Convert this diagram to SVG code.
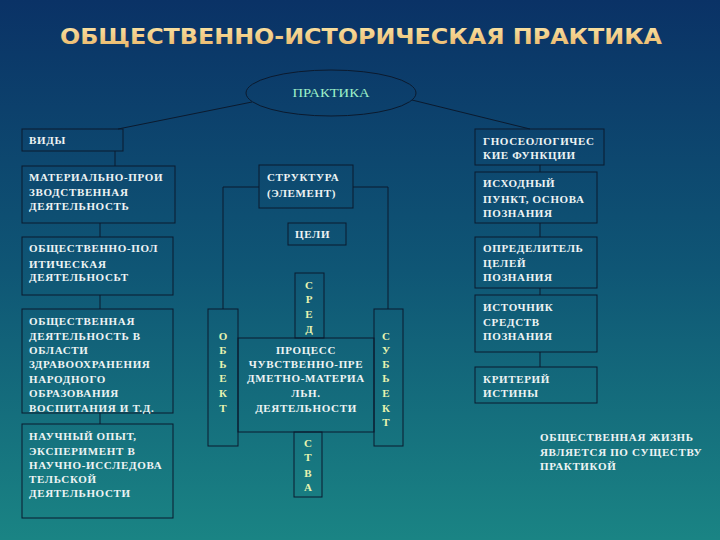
<svg xmlns="http://www.w3.org/2000/svg" width="720" height="540" viewBox="0 0 720 540">
<defs>
<linearGradient id="bg" x1="0" y1="0" x2="0" y2="1">
<stop offset="0" stop-color="#0a3266"/>
<stop offset="0.5" stop-color="#0f5675"/>
<stop offset="1" stop-color="#1a8484"/>
</linearGradient>
<linearGradient id="gold" x1="0" y1="0" x2="0" y2="1">
<stop offset="0" stop-color="#fbe6a8"/>
<stop offset="1" stop-color="#e9b466"/>
</linearGradient>
<style>
.box{fill:none;stroke:#0b1a2e;stroke-width:1}
.ln{fill:none;stroke:#0b1a2e;stroke-width:1}
.t{font-family:"Liberation Serif","Times New Roman",serif;font-weight:bold;font-size:11px;letter-spacing:0.65px;fill:#eef4f4}
.v{font-family:"Liberation Serif","Times New Roman",serif;font-weight:bold;font-size:11px;fill:#e8f4b0;text-anchor:middle}
.c{text-anchor:middle}
</style>
</defs>
<rect width="720" height="540" fill="url(#bg)"/>
<text x="361" y="44" font-family="DejaVu Sans,Verdana,sans-serif" font-weight="bold" font-size="22" fill="url(#gold)" text-anchor="middle" textLength="602" lengthAdjust="spacingAndGlyphs">ОБЩЕСТВЕННО-ИСТОРИЧЕСКАЯ ПРАКТИКА</text>

<g id="connectors">
<line class="ln" x1="252" y1="102" x2="118" y2="129"/>
<line class="ln" x1="412" y1="100" x2="530" y2="129"/>
<line class="ln" x1="115" y1="151" x2="115" y2="166"/>
<line class="ln" x1="100" y1="223" x2="100" y2="237"/>
<line class="ln" x1="100" y1="295" x2="100" y2="309"/>
<line class="ln" x1="100" y1="413" x2="100" y2="424"/>
<polyline class="ln" points="259,187 223,187 223,309"/>
<polyline class="ln" points="353,187 388,187 388,309"/>
<line class="ln" x1="540" y1="165" x2="540" y2="172"/>
<line class="ln" x1="540" y1="223" x2="540" y2="237"/>
<line class="ln" x1="540" y1="288" x2="540" y2="295"/>
<line class="ln" x1="540" y1="352" x2="540" y2="367"/>
</g>

<g id="praktika">
<ellipse class="box" cx="331" cy="93" rx="85" ry="23"/>
<text x="331" y="97" font-family="Liberation Serif,serif" font-size="11.5" fill="#9ef0c8" text-anchor="middle" textLength="77" lengthAdjust="spacingAndGlyphs">ПРАКТИКА</text>
</g>

<g id="vidy">
<rect class="box" x="22" y="129" width="101" height="22"/>
<text class="t" x="29" y="144">ВИДЫ</text>
</g>
<g id="material">
<rect class="box" x="22" y="166" width="153" height="57"/>
<text class="t" x="29" y="181">МАТЕРИАЛЬНО-ПРОИ</text>
<text class="t" x="29" y="196">ЗВОДСТВЕННАЯ</text>
<text class="t" x="29" y="210">ДЕЯТЕЛЬНОСТЬ</text>
</g>
<g id="politic">
<rect class="box" x="22" y="237" width="151" height="58"/>
<text class="t" x="29" y="252">ОБЩЕСТВЕННО-ПОЛ</text>
<text class="t" x="29" y="268">ИТИЧЕСКАЯ</text>
<text class="t" x="29" y="281">ДЕЯТЕЛЬНОСЬТ</text>
</g>
<g id="social">
<rect class="box" x="22" y="309" width="151" height="104"/>
<text class="t" x="29" y="325">ОБЩЕСТВЕННАЯ</text>
<text class="t" x="29" y="340">ДЕЯТЕЛЬНОСТЬ В</text>
<text class="t" x="29" y="354">ОБЛАСТИ</text>
<text class="t" x="29" y="368">ЗДРАВООХРАНЕНИЯ</text>
<text class="t" x="29" y="383">НАРОДНОГО</text>
<text class="t" x="29" y="397">ОБРАЗОВАНИЯ</text>
<text class="t" x="29" y="412">ВОСПИТАНИЯ И Т.Д.</text>
</g>
<g id="science">
<rect class="box" x="22" y="424" width="151" height="94"/>
<text class="t" x="29" y="440">НАУЧНЫЙ ОПЫТ,</text>
<text class="t" x="29" y="455">ЭКСПЕРИМЕНТ В</text>
<text class="t" x="29" y="469">НАУЧНО-ИССЛЕДОВА</text>
<text class="t" x="29" y="483">ТЕЛЬСКОЙ</text>
<text class="t" x="29" y="497">ДЕЯТЕЛЬНОСТИ</text>
</g>

<g id="struktura">
<rect class="box" x="259" y="165" width="94" height="43"/>
<text class="t" x="267" y="181">СТРУКТУРА</text>
<text class="t" x="267" y="197">(ЭЛЕМЕНТ)</text>
</g>
<g id="celi">
<rect class="box" x="288" y="223" width="58" height="22"/>
<text class="t" x="295" y="238">ЦЕЛИ</text>
</g>
<g id="sred">
<rect class="box" x="295" y="273" width="29" height="65"/>
<text class="v" x="309" y="289">С</text>
<text class="v" x="309" y="303">Р</text>
<text class="v" x="309" y="318">Е</text>
<text class="v" x="309" y="333">Д</text>
</g>
<g id="obekt">
<rect class="box" x="208" y="309" width="30" height="137"/>
<text class="v" x="223" y="340">О</text>
<text class="v" x="223" y="354">Б</text>
<text class="v" x="223" y="368">Ь</text>
<text class="v" x="223" y="382">Е</text>
<text class="v" x="223" y="397">К</text>
<text class="v" x="223" y="412">Т</text>
</g>
<g id="process">
<rect class="box" x="238" y="338" width="136" height="94"/>
<text class="t c" x="306" y="354">ПРОЦЕСС</text>
<text class="t c" x="306" y="368">ЧУВСТВЕННО-ПРЕ</text>
<text class="t c" x="306" y="382">ДМЕТНО-МАТЕРИА</text>
<text class="t c" x="306" y="397">ЛЬН.</text>
<text class="t c" x="306" y="412">ДЕЯТЕЛЬНОСТИ</text>
</g>
<g id="subekt">
<rect class="box" x="374" y="309" width="29" height="137"/>
<text class="v" x="386" y="340">С</text>
<text class="v" x="386" y="354">У</text>
<text class="v" x="386" y="368">Б</text>
<text class="v" x="386" y="382">Ь</text>
<text class="v" x="386" y="397">Е</text>
<text class="v" x="386" y="412">К</text>
<text class="v" x="386" y="426">Т</text>
</g>
<g id="stva">
<rect class="box" x="294" y="432" width="28" height="65"/>
<text class="v" x="308" y="447">С</text>
<text class="v" x="308" y="461">Т</text>
<text class="v" x="308" y="477">В</text>
<text class="v" x="308" y="491">А</text>
</g>

<g id="gnoseo">
<rect class="box" x="475" y="129" width="129" height="36"/>
<text class="t" x="483" y="145">ГНОСЕОЛОГИЧЕС</text>
<text class="t" x="483" y="159">КИЕ ФУНКЦИИ</text>
</g>
<g id="ishod">
<rect class="box" x="475" y="172" width="122" height="51"/>
<text class="t" x="483" y="187">ИСХОДНЫЙ</text>
<text class="t" x="483" y="203">ПУНКТ, ОСНОВА</text>
<text class="t" x="483" y="217">ПОЗНАНИЯ</text>
</g>
<g id="opred">
<rect class="box" x="475" y="237" width="122" height="51"/>
<text class="t" x="483" y="252">ОПРЕДЕЛИТЕЛЬ</text>
<text class="t" x="483" y="267">ЦЕЛЕЙ</text>
<text class="t" x="483" y="281">ПОЗНАНИЯ</text>
</g>
<g id="istochnik">
<rect class="box" x="475" y="295" width="122" height="57"/>
<text class="t" x="483" y="311">ИСТОЧНИК</text>
<text class="t" x="483" y="326">СРЕДСТВ</text>
<text class="t" x="483" y="340">ПОЗНАНИЯ</text>
</g>
<g id="kriteriy">
<rect class="box" x="475" y="367" width="122" height="36"/>
<text class="t" x="483" y="383">КРИТЕРИЙ</text>
<text class="t" x="483" y="397">ИСТИНЫ</text>
</g>
<g id="note">
<text class="t" x="540" y="441">ОБЩЕСТВЕННАЯ ЖИЗНЬ</text>
<text class="t" x="540" y="456">ЯВЛЯЕТСЯ ПО СУЩЕСТВУ</text>
<text class="t" x="540" y="470">ПРАКТИКОЙ</text>
</g>
</svg>
